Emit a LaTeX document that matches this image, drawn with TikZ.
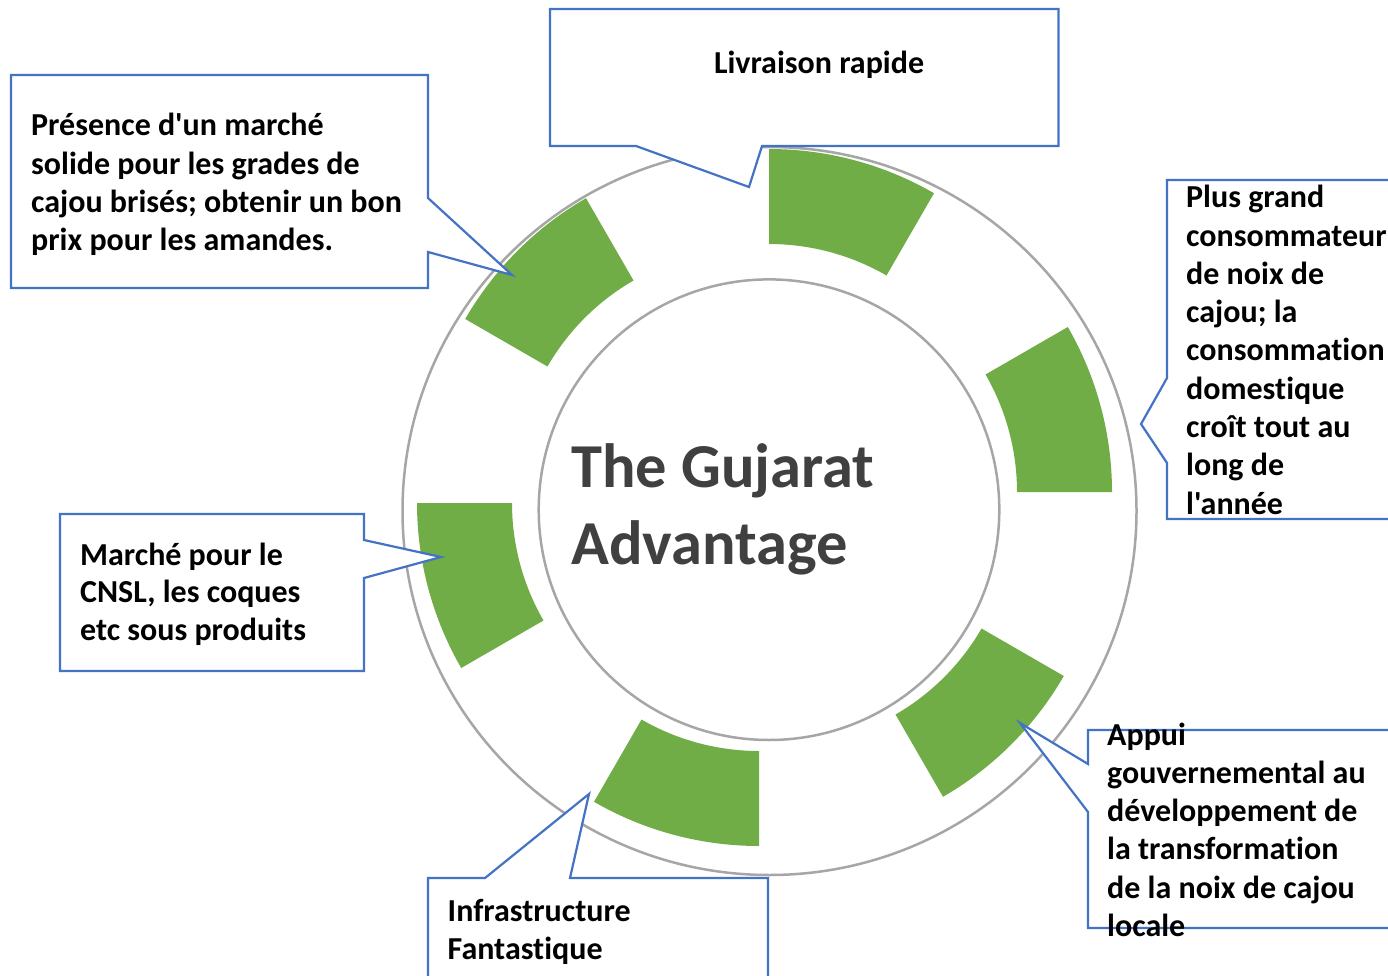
\documentclass[tikz,border=0pt]{standalone}
\usepackage{fontspec}
\setmainfont{Carlito}[Ligatures={TeXOff,NoCommon}]
\definecolor{offgreen}{HTML}{70AD47}
\definecolor{offblue}{HTML}{4472C4}
\definecolor{ringgray}{HTML}{A6A6A6}
\definecolor{titlegray}{HTML}{404040}
\tikzset{
  ring/.style={draw=ringgray, line width=2.5pt},
  seg/.style={fill=offgreen},
  callout/.style={draw=offblue, fill=white, line width=2.2pt, line join=miter},
  ctext/.style={anchor=base west, inner sep=0pt, font=\bfseries\fontsize{32}{38.3}\selectfont},
  ttext/.style={anchor=base west, inner sep=0pt, text=titlegray, font=\bfseries\fontsize{62.5}{77}\selectfont},
}
\newcommand{\greenseg}[4]{%
  \fill[seg, shift={(#1,#2)}] (#3:235pt) arc[start angle=#3, end angle=#4, radius=235pt]
    -- (#4:330pt) arc[start angle=#4, end angle=#3, radius=330pt] -- cycle;}
\begin{document}
\begin{tikzpicture}[x=1pt,y=1pt]
\clip (0,0) rectangle (1388,-976);
\fill[white] (0,0) rectangle (1388,-976);
% rings
\draw[ring] (769.5,-511) ellipse[x radius=367pt, y radius=364pt];
\draw[ring] (769,-509.7) circle[radius=230.3pt];
% green segments
\greenseg{769}{-479}{60}{90}
\greenseg{782}{-492}{0}{30}
\greenseg{778}{-511}{-60}{-30}
\greenseg{759}{-516}{-120}{-90}
\greenseg{747}{-503}{180}{210}
\greenseg{751}{-484}{120}{150}
% title
\node[ttext] (title) at (571,-487.5) {\vtop{\hbox{The Gujarat}\hbox{Advantage}}};
% callouts
\draw[callout] (550,-9) -- (1058.5,-9) -- (1058.5,-146) -- (762,-146) -- (749,-187) -- (636,-146) -- (550,-146) -- cycle;
\draw[callout] (11,-75) -- (428,-75) -- (428,-198) -- (512,-275) -- (428,-252) -- (428,-288) -- (11,-288) -- cycle;
\draw[callout] (1167,-180) -- (1400,-180) -- (1400,-519) -- (1167,-519) -- (1167,-463) -- (1141,-424) -- (1167,-378) -- cycle;
\draw[callout] (60,-514) -- (364,-514) -- (364,-540) -- (441,-557) -- (364,-578) -- (364,-671) -- (60,-671) -- cycle;
\draw[callout] (428,-878) -- (485,-878) -- (589,-794) -- (570,-878) -- (768,-878) -- (768,-990) -- (428,-990) -- cycle;
\draw[callout] (1088,-730) -- (1400,-730) -- (1400,-928) -- (1088,-928) -- (1088,-812) -- (1020,-723) -- (1088,-764) -- cycle;
% callout texts
\node[ctext, anchor=base] (t1) at (819,-74) {Livraison rapide};
\node[ctext] (t2) at (31,-136) {\vtop{\hbox{Présence d'un marché}\hbox{solide pour les grades de}\hbox{cajou brisés; obtenir un bon}\hbox{prix pour les amandes.}}};
\node[ctext, font=\bfseries\fontsize{32}{38.25}\selectfont] (t3) at (1186,-208) {\vtop{\hbox{Plus grand}\hbox{consommateur}\hbox{de noix de}\hbox{cajou; la}\hbox{consommation}\hbox{domestique}\hbox{croît tout au}\hbox{long de}\hbox{l'année}}};
\node[ctext, font=\bfseries\fontsize{32}{37.9}\selectfont] (t4) at (80,-565) {\vtop{\hbox{Marché pour le}\hbox{CNSL, les coques}\hbox{etc sous produits}}};
\node[ctext, font=\bfseries\fontsize{32}{37.5}\selectfont] (t5) at (447.5,-921.5) {\vtop{\hbox{Infrastructure}\hbox{Fantastique}}};
\node[ctext] (t6) at (1107,-745) {\vtop{\hbox{Appui}\hbox{gouvernemental au}\hbox{développement de}\hbox{la transformation}\hbox{de la noix de cajou}\hbox{locale}}};
\end{tikzpicture}
\end{document}
